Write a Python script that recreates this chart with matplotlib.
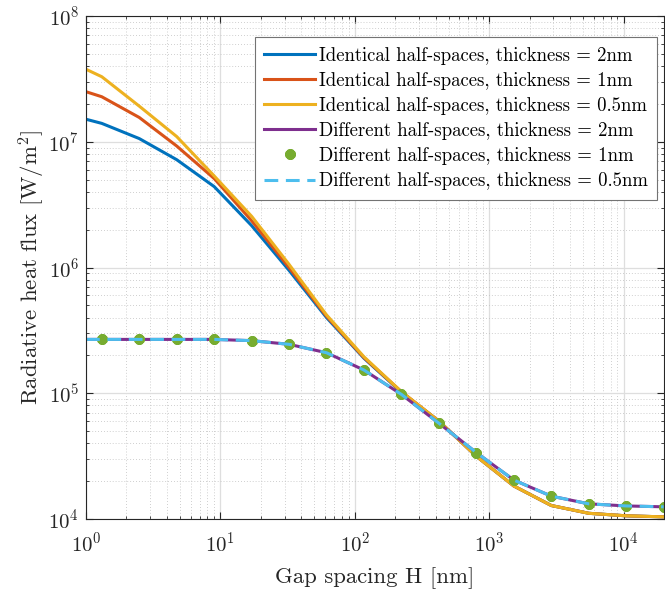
import numpy as np
import matplotlib
matplotlib.use("Agg")
import matplotlib.pyplot as plt
from matplotlib.ticker import LogLocator, NullFormatter

plt.rcParams['font.family'] = 'serif'
plt.rcParams['font.serif'] = ['cmr10']
plt.rcParams['mathtext.fontset'] = 'cm'
plt.rcParams['axes.formatter.use_mathtext'] = True

# gap spacing H [nm]
gap = [1, 1.31, 2.49, 4.73, 8.99, 17.1, 32.4, 61.6, 117, 222,
       423, 804, 1527, 2901, 5512, 10473, 19899]

# radiative heat flux [W/m^2]
ident_2nm = [1.51e7, 1.40e7, 1.06e7, 7.2e6, 4.4e6, 2.15e6, 9.5e5, 4.0e5, 1.9e5,
             1.02e5, 6.0e4, 3.15e4, 1.83e4, 1.28e4, 1.11e4, 1.06e4, 1.04e4]
ident_1nm = [2.5e7, 2.28e7, 1.56e7, 9.25e6, 5.1e6, 2.35e6, 1.0e6, 4.1e5, 1.92e5,
             1.03e5, 6.0e4, 3.15e4, 1.83e4, 1.28e4, 1.11e4, 1.06e4, 1.04e4]
ident_05nm = [3.77e7, 3.29e7, 1.92e7, 1.1e7, 5.35e6, 2.55e6, 1.06e6, 4.2e5, 1.95e5,
              1.03e5, 6.0e4, 3.15e4, 1.83e4, 1.28e4, 1.11e4, 1.06e4, 1.04e4]
diff_2nm = [2.68e5, 2.68e5, 2.68e5, 2.68e5, 2.68e5, 2.62e5, 2.45e5, 2.1e5, 1.53e5,
            9.8e4, 5.77e4, 3.37e4, 2.04e4, 1.52e4, 1.32e4, 1.27e4, 1.25e4]
diff_1nm = [2.68e5, 2.68e5, 2.68e5, 2.68e5, 2.68e5, 2.62e5, 2.45e5, 2.1e5, 1.53e5,
            9.8e4, 5.77e4, 3.37e4, 2.04e4, 1.52e4, 1.32e4, 1.27e4, 1.25e4]
diff_05nm = [2.68e5, 2.68e5, 2.68e5, 2.68e5, 2.68e5, 2.62e5, 2.45e5, 2.1e5, 1.53e5,
             9.8e4, 5.77e4, 3.37e4, 2.04e4, 1.52e4, 1.32e4, 1.27e4, 1.25e4]

labels = ['Identical half-spaces, thickness = 2nm',
          'Identical half-spaces, thickness = 1nm',
          'Identical half-spaces, thickness = 0.5nm',
          'Different half-spaces, thickness = 2nm',
          'Different half-spaces, thickness = 1nm',
          'Different half-spaces, thickness = 0.5nm']

# matlab default colours
c_blue = (0, 0.447, 0.741)
c_orange = (0.85, 0.325, 0.098)
c_yellow = (0.929, 0.694, 0.125)
c_purple = (0.494, 0.184, 0.556)
c_green = (0.466, 0.674, 0.188)
c_cyan = (0.301, 0.745, 0.933)
axcol = (0.15, 0.15, 0.15)

fig = plt.figure(figsize=(6.65, 5.94), dpi=100)
ax = fig.add_axes([86 / 665, 75 / 594, 578 / 665, 503 / 594])

lw = 2.2
ax.plot(gap, ident_2nm, color=c_blue, lw=lw, label=labels[0])
ax.plot(gap, ident_1nm, color=c_orange, lw=lw, label=labels[1])
ax.plot(gap, ident_05nm, color=c_yellow, lw=lw, label=labels[2])
ax.plot(gap, diff_2nm, color=c_purple, lw=lw, label=labels[3])
ax.plot(gap, diff_1nm, color=c_green, ls='none', marker=(8, 2, 0), ms=7.5, mew=2.6,
        markevery=slice(1, None), label=labels[4])
ax.plot(gap, diff_05nm, color=c_cyan, lw=lw, dashes=(4.5, 2.5), label=labels[5])

ax.set_xscale('log')
ax.set_yscale('log')
ax.set_xlim(1, 2e4)
ax.set_ylim(1e4, 1e8)

ax.xaxis.set_major_locator(LogLocator(base=10, numticks=10))
ax.yaxis.set_major_locator(LogLocator(base=10, numticks=10))
ax.xaxis.set_minor_locator(LogLocator(base=10, subs=np.arange(2, 10), numticks=20))
ax.yaxis.set_minor_locator(LogLocator(base=10, subs=np.arange(2, 10), numticks=20))
ax.xaxis.set_minor_formatter(NullFormatter())
ax.yaxis.set_minor_formatter(NullFormatter())

ax.grid(True, which='major', color=(0.87, 0.87, 0.87), lw=0.9)
ax.grid(True, which='minor', color=(0.75, 0.75, 0.75), lw=0.6, ls=(0, (1, 2.5)))
ax.set_axisbelow(True)

ax.tick_params(which='both', direction='in', top=True, right=True, colors=axcol,
               labelsize=15)
ax.tick_params(which='major', length=5, width=0.8)
ax.tick_params(which='minor', length=2.5, width=0.6)
ax.tick_params(axis='x', pad=9)
ax.tick_params(axis='y', pad=5)
for s in ax.spines.values():
    s.set_color(axcol)
    s.set_linewidth(0.8)

ax.set_xlabel('Gap spacing H [nm]', fontsize=16.4, color=axcol, labelpad=8)
ax.set_ylabel(r'Radiative heat flux $[\mathrm{W/m}^2]$', fontsize=16.4, color=axcol,
              labelpad=1)

leg = ax.legend(loc='upper right', bbox_to_anchor=(0.988, 0.958), borderaxespad=0,
                fontsize=13.5, fancybox=False, framealpha=1,
                edgecolor=(0.45, 0.45, 0.45), handlelength=2.7, handletextpad=0.2,
                labelspacing=0.38, borderpad=0.5)
leg.get_frame().set_linewidth(0.8)

fig.savefig('out.png', dpi=100)
